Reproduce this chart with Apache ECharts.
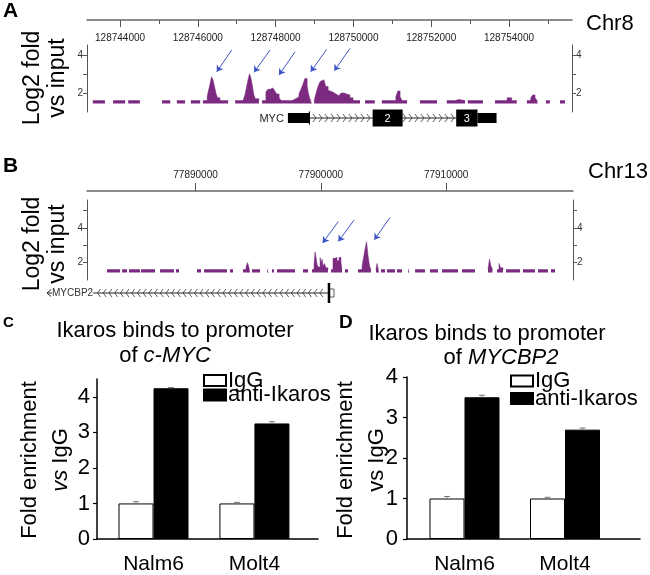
<!DOCTYPE html>
<html>
<head>
<meta charset="utf-8">
<script src="https://cdn.jsdelivr.net/npm/echarts@6/dist/echarts.min.js"></script>
<style>
  html, body { margin: 0; padding: 0; background: #fff; }
  #chart { width: 650px; height: 575px; }
</style>
</head>
<body>
<div id="chart"></div>
<script>
// ---- Panel A: Chr8 track around MYC (position in bp, log2 fold vs input) ----
const chr8Ticks = [128744000, 128746000, 128748000, 128750000, 128752000, 128754000];
const chr8MinorTicks = [128745000, 128747000, 128749000, 128751000, 128753000, 128755000];
const chr8Segments = [
  [[128743300, 1.6], [128743610, 1.6]],
  [[128743820, 1.6], [128744130, 1.6]],
  [[128744210, 1.6], [128744510, 1.6]],
  [[128745080, 1.6], [128745290, 1.6]],
  [[128745460, 1.6], [128745670, 1.6]],
  [[128745820, 1.6], [128746060, 1.6]],
  [[128746130, 1.6], [128746240, 1.8], [128746270, 2.1], [128746310, 2.45], [128746350, 2.86], [128746390, 2.7],
   [128746430, 2.35], [128746470, 1.95], [128746510, 1.75], [128746570, 1.6], [128746780, 1.6]],
  [[128746960, 1.6], [128747160, 1.7], [128747210, 1.9], [128747250, 2.3], [128747290, 2.7], [128747330, 3.02],
   [128747370, 2.75], [128747410, 2.3], [128747440, 1.9], [128747480, 1.7], [128747570, 1.6]],
  [[128747650, 1.6], [128747750, 2.05], [128747800, 2.2], [128747860, 2.27], [128747930, 2.2], [128747980, 2.1],
   [128748030, 1.95], [128748090, 1.75], [128748140, 1.6], [128748420, 1.7], [128748520, 1.8], [128748600, 1.95],
   [128748650, 2.2], [128748700, 2.45], [128748750, 2.76], [128748810, 2.4], [128748840, 2.0], [128748880, 1.7],
   [128748930, 1.6]],
  [[128748990, 1.6], [128749040, 2.0], [128749090, 2.35], [128749140, 2.6], [128749190, 2.7], [128749240, 2.6],
   [128749290, 2.35], [128749350, 2.15], [128749400, 2.05], [128749470, 1.95], [128749550, 1.85], [128749630, 1.9],
   [128749680, 2.0], [128749760, 1.95], [128749830, 1.9], [128749910, 1.75], [128749990, 1.6], [128750170, 1.6]],
  [[128750300, 1.6], [128750550, 1.6]],
  [[128750730, 1.6], [128751090, 1.8], [128751140, 2.1], [128751200, 1.8], [128751250, 1.6], [128751380, 1.6]],
  [[128751710, 1.6], [128752150, 1.6]],
  [[128752400, 1.6], [128752610, 1.66], [128752710, 1.6], [128752870, 1.6]],
  [[128752940, 1.6], [128753330, 1.6]],
  [[128753640, 1.6], [128753950, 1.75], [128754070, 1.6], [128754200, 1.6]],
  [[128754460, 1.6], [128754560, 1.75], [128754610, 1.9], [128754670, 1.75], [128754720, 1.6], [128754740, 1.6]],
  [[128754950, 1.6], [128755050, 1.6]],
  [[128755310, 1.6], [128755440, 1.6]]
];
// arrows pointing at peaks: [fromX, fromY, toX, toY]
const chr8Arrows = [
  [128746870, 4.26, 128746485, 3.12],
  [128747855, 4.26, 128747444, 3.09],
  [128748500, 4.17, 128748086, 2.95],
  [128749312, 4.30, 128748901, 3.12],
  [128749911, 4.35, 128749508, 3.17]
];
// MYC gene model: [start, end, kind, label]
const mycBlocks = [
  [128748315, 128748869, 'thin', ''],
  [128750494, 128751265, 'thick', '2'],
  [128752642, 128753190, 'thick', '3'],
  [128753190, 128753680, 'thin', '']
];
const mycIntron = [128748869, 128752642];

// ---- Panel B: Chr13 track around MYCBP2 ----
const chr13Ticks = [77890000, 77900000, 77910000];
const chr13Segments = [
  [[77882940, 1.6], [77883980, 1.6]],
  [[77884140, 1.6], [77884530, 1.6]],
  [[77884690, 1.6], [77885570, 1.6]],
  [[77885650, 1.6], [77886770, 1.6]],
  [[77887170, 1.6], [77888280, 1.6]],
  [[77888440, 1.6], [77888680, 1.6]],
  [[77890120, 1.6], [77890440, 1.6]],
  [[77890680, 1.6], [77892510, 1.6]],
  [[77892750, 1.6], [77892990, 1.6]],
  [[77893790, 1.6], [77894030, 1.75], [77894150, 2.0], [77894270, 1.7], [77894350, 1.6]],
  [[77894510, 1.6], [77895150, 1.6]],
  [[77895710, 1.6], [77895830, 1.6]],
  [[77896100, 1.6], [77896260, 1.6]],
  [[77896500, 1.6], [77897940, 1.6]],
  [[77898580, 1.6], [77898980, 1.6]],
  [[77899300, 1.6], [77899460, 1.9], [77899540, 2.62], [77899620, 2.3], [77899700, 1.9], [77899780, 1.75],
   [77899940, 2.3], [77900020, 2.0], [77900100, 2.2], [77900180, 1.8], [77900290, 1.95], [77900410, 1.7], [77900570, 1.6]],
  [[77900810, 1.6], [77900970, 2.25], [77901130, 2.3], [77901290, 2.1], [77901450, 2.3], [77901610, 2.0], [77901690, 1.6]],
  [[77901930, 1.6], [77902170, 1.6]],
  [[77902970, 1.6], [77903290, 1.8], [77903410, 2.3], [77903530, 2.8], [77903650, 3.2], [77903770, 2.4],
   [77903890, 1.8], [77904000, 1.6]],
  [[77904400, 1.6], [77904480, 1.95], [77904560, 1.7], [77904640, 1.6]],
  [[77904800, 1.6], [77905120, 1.6]],
  [[77905280, 1.6], [77905920, 1.6]],
  [[77906080, 1.6], [77906480, 1.6]],
  [[77906960, 1.6], [77907080, 1.6]],
  [[77907520, 1.6], [77908310, 1.6]],
  [[77908710, 1.6], [77909350, 1.6]],
  [[77909670, 1.6], [77910950, 1.6]],
  [[77911270, 1.6], [77912300, 1.6]],
  [[77913340, 1.6], [77913460, 2.2], [77913580, 1.8], [77913700, 1.6]],
  [[77914060, 1.6], [77914220, 1.95], [77914340, 1.7], [77914540, 1.6]],
  [[77914780, 1.6], [77915900, 1.6]],
  [[77916130, 1.6], [77917090, 1.6]],
  [[77917330, 1.6], [77918130, 1.6]],
  [[77918370, 1.6], [77918690, 1.6]]
];
const chr13Arrows = [
  [77901395, 4.36, 77900151, 3.13],
  [77902672, 4.46, 77901395, 3.22],
  [77905521, 4.59, 77904268, 3.31]
];
const mycbp2Span = [77878150, 77900650];   // minus strand, TSS on the right
const mycbp2Exon = [77900700, 77901050];

// ---- Panels C and D: ChIP-qPCR fold enrichment ----
const cellLines = ['Nalm6', 'Molt4'];
const mycIgG = [1.0, 1.0];
const mycIgGErr = [0.05, 0.03];
const mycIkaros = [4.24, 3.25];
const mycIkarosErr = [0.02, 0.05];
const cbpIgG = [1.0, 1.0];
const cbpIgGErr = [0.05, 0.03];
const cbpIkaros = [3.5, 2.7];
const cbpIkarosErr = [0.05, 0.04];

const FONT = '"Liberation Sans", Arial, sans-serif';
const PURPLE = '#7b2a80';
const ARROW = '#3f55c6';

// flatten segments into one line with breaks between them
const toTrack = segs => {
  const out = [];
  segs.forEach(s => {
    s.forEach(p => out.push(p));
    out.push([s[s.length - 1][0], '-']);
  });
  return out;
};
const toArrows = arr => arr.map(a => [{ coord: [a[0], a[1]] }, { coord: [a[2], a[3]] }]);

const trackYAxis = (grid, pos, max, ticks) => ({
  type: 'value', gridIndex: grid, position: pos, min: 1, max: max,
  axisLine: { show: true, lineStyle: { color: '#555', width: 1 } },
  axisTick: { show: true, length: 4, customValues: ticks, lineStyle: { color: '#555' } },
  axisLabel: { customValues: [2, 4], fontSize: 10, color: '#333', margin: 4, fontFamily: FONT },
  splitLine: { show: false }
});
const hiddenAxis = (grid, min, max) => ({
  type: 'value', gridIndex: grid, min: min, max: max, show: false, splitLine: { show: false }
});

// MYC gene drawing (plus strand)
const renderMyc = (params, api) => {
  const px = v => api.coord([v, 0.5])[0];
  const y = api.coord([mycIntron[0], 0.5])[1];
  const ch = [];
  const a = px(mycIntron[0]), b = px(mycIntron[1]);
  ch.push({ type: 'line', shape: { x1: a, y1: y, x2: b, y2: y }, style: { stroke: '#222', lineWidth: 1 } });
  for (let x = a + 5; x < b - 2; x += 6) {
    ch.push({ type: 'polyline', shape: { points: [[x - 1.5, y - 4], [x + 1.5, y], [x - 1.5, y + 4]] },
      style: { stroke: '#333', fill: null, lineWidth: 0.8 } });
  }
  mycBlocks.forEach(bl => {
    const h = bl[2] === 'thick' ? 17 : 10;
    const x0 = px(bl[0]), x1 = px(bl[1]);
    ch.push({ type: 'rect', shape: { x: x0, y: y - h / 2, width: x1 - x0, height: h }, style: { fill: '#000' } });
    if (bl[3]) {
      ch.push({ type: 'text', x: (x0 + x1) / 2, y: y + 0.5,
        style: { text: bl[3], fill: '#fff', fontSize: 11, fontFamily: FONT, align: 'center', verticalAlign: 'middle' } });
    }
  });
  const t = px(mycBlocks[0][1]);
  ch.push({ type: 'line', shape: { x1: t, y1: y - 6.5, x2: t, y2: y + 6.5 }, style: { stroke: '#000', lineWidth: 1.2 } });
  ch.push({ type: 'text', x: px(mycBlocks[0][0]) - 4, y: y + 0.5,
    style: { text: 'MYC', fill: '#222', fontSize: 11, fontFamily: FONT, align: 'right', verticalAlign: 'middle' } });
  return { type: 'group', children: ch };
};

// MYCBP2 gene drawing (minus strand)
const renderMycbp2 = (params, api) => {
  const px = v => api.coord([v, 0.5])[0];
  const y = api.coord([mycbp2Span[0], 0.5])[1];
  const a = px(mycbp2Span[0]), b = px(mycbp2Span[1]);
  const ch = [];
  ch.push({ type: 'line', shape: { x1: a, y1: y, x2: b, y2: y }, style: { stroke: '#222', lineWidth: 1 } });
  ch.push({ type: 'polyline', shape: { points: [[a + 4, y - 3.5], [a, y], [a + 4, y + 3.5]] },
    style: { stroke: '#222', fill: null, lineWidth: 1 } });
  for (let x = a + 52; x < b - 3; x += 5.7) {
    ch.push({ type: 'polyline', shape: { points: [[x + 1.5, y - 4], [x - 1.5, y], [x + 1.5, y + 4]] },
      style: { stroke: '#333', fill: null, lineWidth: 0.8 } });
  }
  ch.push({ type: 'text', x: a + 5, y: y + 0.5,
    style: { text: 'MYCBP2', fill: '#333', fontSize: 10, fontFamily: FONT, align: 'left', verticalAlign: 'middle',
      backgroundColor: '#fff' } });
  const e0 = px(mycbp2Exon[0]), e1 = px(mycbp2Exon[1]);
  ch.push({ type: 'rect', shape: { x: e0, y: y - 4, width: e1 - e0, height: 8 },
    style: { fill: '#fff', stroke: '#333', lineWidth: 0.8 } });
  ch.push({ type: 'line', shape: { x1: b, y1: y - 10, x2: b, y2: y + 10 }, style: { stroke: '#000', lineWidth: 2.5 } });
  return { type: 'group', children: ch };
};

const errorBars = (params, api) => {
  const x = api.value(0), v = api.value(1), e = api.value(2), side = api.value(3);
  const top = api.coord([x, v + e]);
  const base = api.coord([x, v]);
  const cx = top[0] + side * 17.5;
  return { type: 'group', children: [
    { type: 'line', shape: { x1: cx, y1: base[1], x2: cx, y2: top[1] }, style: { stroke: '#777', lineWidth: 1 } },
    { type: 'line', shape: { x1: cx - 3, y1: top[1], x2: cx + 3, y2: top[1] }, style: { stroke: '#777', lineWidth: 1 } }
  ] };
};
const errData = (vals, errs, side) => vals.map((v, i) => [i + 1, v, errs[i], side]);

const barYAxis = (grid, max, margin) => ({
  type: 'value', gridIndex: grid, min: 0, max: max,
  axisLine: { show: true, lineStyle: { color: '#000', width: 1.5 } },
  axisTick: { show: true, length: 4, customValues: [0, 1, 2, 3, 4], lineStyle: { color: '#000', width: 1.2 } },
  axisLabel: { customValues: [0, 1, 2, 3, 4], fontSize: 22, color: '#000', margin: margin, fontFamily: FONT },
  splitLine: { show: false }
});
const barXAxis = (grid, min, max) => ({
  type: 'value', gridIndex: grid, min: min, max: max,
  axisLine: { show: true, onZero: false, lineStyle: { color: '#000', width: 1.5 } },
  axisTick: { show: false },
  axisLabel: { customValues: [1, 2], formatter: v => cellLines[Math.round(v) - 1], fontSize: 21, color: '#000',
    margin: 15, fontFamily: FONT },
  splitLine: { show: false }
});
const igGStyle = { color: '#fff', borderColor: '#000', borderWidth: 1 };
const ikStyle = { color: '#000', borderColor: '#000', borderWidth: 1 };
// one legend per entry so each row sits where the picture has it
const legendItem = (name, left, top) => ({
  data: [name], left: left, top: top, padding: 0, itemWidth: 22, itemHeight: 11, icon: 'rect',
  selectedMode: false, textStyle: { fontSize: 22, color: '#000', fontFamily: FONT, padding: [0, 0, 0, -3] }
});

const chart = echarts.init(document.getElementById('chart'));
chart.setOption({
  animation: false,
  backgroundColor: '#fff',
  textStyle: { fontFamily: FONT },
  grid: [
    { left: 87, right: 78, top: 45, height: 67 },
    { left: 87, right: 78, top: 108, height: 20 },
    { left: 87, right: 77, top: 200, height: 80 },
    { left: 87, right: 77, top: 283, height: 20 },
    { left: 97, right: 332, top: 379, height: 162 },
    { left: 407, right: 10, top: 377, height: 164 }
  ],
  xAxis: [
    { type: 'value', gridIndex: 0, position: 'top', offset: 25, min: 128743150, max: 128755620,
      axisLine: { show: true, lineStyle: { color: '#666', width: 1.5 } },
      axisTick: { show: true, inside: true, length: 7, customValues: chr8Ticks, lineStyle: { color: '#555' } },
      axisLabel: { inside: true, margin: 13, customValues: chr8Ticks, formatter: v => String(v), fontSize: 10,
        color: '#222', fontFamily: FONT },
      splitLine: { show: false } },
    { type: 'value', gridIndex: 0, position: 'top', offset: 25, min: 128743150, max: 128755620,
      axisLine: { show: false },
      axisTick: { show: true, inside: true, length: 4, customValues: chr8MinorTicks, lineStyle: { color: '#555' } },
      axisLabel: { show: false }, splitLine: { show: false } },
    hiddenAxis(1, 128743150, 128755620),
    { type: 'value', gridIndex: 2, position: 'top', offset: 9, min: 77881340, max: 77920125,
      axisLine: { show: true, lineStyle: { color: '#666', width: 1.5 } },
      axisTick: { show: true, length: 8, customValues: chr13Ticks, lineStyle: { color: '#555' } },
      axisLabel: { margin: 11, customValues: chr13Ticks, formatter: v => String(v), fontSize: 10, color: '#222',
        fontFamily: FONT },
      splitLine: { show: false } },
    hiddenAxis(3, 77881340, 77920125),
    barXAxis(4, 0.44, 2.63),
    barXAxis(5, 0.428, 2.746)
  ],
  yAxis: [
    trackYAxis(0, 'left', 4.53, [2, 3, 4]),
    trackYAxis(0, 'right', 4.53, [2, 3, 4]),
    hiddenAxis(1, 0, 1),
    trackYAxis(2, 'left', 5.6, [2, 3, 4, 5]),
    trackYAxis(2, 'right', 5.6, [2, 3, 4, 5]),
    hiddenAxis(3, 0, 1),
    barYAxis(4, 4.5, 7),
    barYAxis(5, 4, 9)
  ],
  legend: [
    legendItem('IgG', 203, 369.5),
    legendItem('anti-Ikaros', 203, 384),
    legendItem('IgG', 510, 370),
    legendItem('anti-Ikaros', 510, 387.5)
  ],
  series: [
    { name: 'chr8', type: 'line', xAxisIndex: 0, yAxisIndex: 0, step: 'end', showSymbol: false, silent: true,
      connectNulls: false, data: toTrack(chr8Segments),
      lineStyle: { color: PURPLE, width: 0.5 }, areaStyle: { color: PURPLE, opacity: 1, origin: 1.45 },
      markLine: { silent: true, symbol: ['none', 'arrow'], symbolSize: 6, label: { show: false },
        lineStyle: { color: ARROW, width: 1, type: 'solid' }, data: toArrows(chr8Arrows) } },
    { type: 'custom', xAxisIndex: 2, yAxisIndex: 2, clip: false, silent: true,
      data: [[mycIntron[0], 0.5]], renderItem: renderMyc },
    { name: 'chr13', type: 'line', xAxisIndex: 3, yAxisIndex: 3, step: 'end', showSymbol: false, silent: true,
      connectNulls: false, data: toTrack(chr13Segments),
      lineStyle: { color: PURPLE, width: 0.5 }, areaStyle: { color: PURPLE, opacity: 1, origin: 1.43 },
      markLine: { silent: true, symbol: ['none', 'arrow'], symbolSize: 6, label: { show: false },
        lineStyle: { color: ARROW, width: 1, type: 'solid' }, data: toArrows(chr13Arrows) } },
    { type: 'custom', xAxisIndex: 4, yAxisIndex: 5, clip: false, silent: true,
      data: [[mycbp2Span[0], 0.5]], renderItem: renderMycbp2 },

    { name: 'IgG', type: 'bar', xAxisIndex: 5, yAxisIndex: 6, barWidth: 35, barGap: '0%',
      data: mycIgG.map((v, i) => [i + 1, v]), itemStyle: igGStyle },
    { name: 'anti-Ikaros', type: 'bar', xAxisIndex: 5, yAxisIndex: 6, barWidth: 35, barGap: '0%',
      data: mycIkaros.map((v, i) => [i + 1, v]), itemStyle: ikStyle },
    { type: 'custom', xAxisIndex: 5, yAxisIndex: 6, silent: true, z: 5,
      data: errData(mycIgG, mycIgGErr, -1).concat(errData(mycIkaros, mycIkarosErr, 1)), renderItem: errorBars },

    { name: 'IgG', type: 'bar', xAxisIndex: 6, yAxisIndex: 7, barWidth: 35, barGap: '0%',
      data: cbpIgG.map((v, i) => [i + 1, v]), itemStyle: igGStyle },
    { name: 'anti-Ikaros', type: 'bar', xAxisIndex: 6, yAxisIndex: 7, barWidth: 35, barGap: '0%',
      data: cbpIkaros.map((v, i) => [i + 1, v]), itemStyle: ikStyle },
    { type: 'custom', xAxisIndex: 6, yAxisIndex: 7, silent: true, z: 5,
      data: errData(cbpIgG, cbpIgGErr, -1).concat(errData(cbpIkaros, cbpIkarosErr, 1)), renderItem: errorBars }
  ],
  graphic: [
    { type: 'text', x: 3, y: 1, style: { text: 'A', fontSize: 21, fontWeight: 'bold', fontFamily: FONT, fill: '#000' } },
    { type: 'text', x: 3, y: 156, style: { text: 'B', fontSize: 21, fontWeight: 'bold', fontFamily: FONT, fill: '#000' } },
    { type: 'text', x: 3, y: 315, style: { text: 'C', fontSize: 15, fontWeight: 'bold', fontFamily: FONT, fill: '#000' } },
    { type: 'text', x: 339, y: 313, style: { text: 'D', fontSize: 19, fontWeight: 'bold', fontFamily: FONT, fill: '#000' } },
    { type: 'text', x: 586, y: 24, style: { text: 'Chr8', fontSize: 22, fontFamily: FONT, fill: '#000',
      align: 'left', verticalAlign: 'middle' } },
    { type: 'text', x: 588, y: 172, style: { text: 'Chr13', fontSize: 22, fontFamily: FONT, fill: '#000',
      align: 'left', verticalAlign: 'middle' } },
    { type: 'text', x: 45, y: 78, rotation: Math.PI / 2, style: { text: 'Log2 fold\nvs input', fontSize: 23,
      lineHeight: 25, fontFamily: FONT, fill: '#000', align: 'center', verticalAlign: 'middle' } },
    { type: 'text', x: 45, y: 244, rotation: Math.PI / 2, style: { text: 'Log2 fold\nvs input', fontSize: 23,
      lineHeight: 25, fontFamily: FONT, fill: '#000', align: 'center', verticalAlign: 'middle' } },
    { type: 'text', x: 45.5, y: 460, rotation: Math.PI / 2, style: { text: 'Fold enrichment\n{i|vs} IgG', fontSize: 22,
      lineHeight: 31, fontFamily: FONT, fill: '#000', align: 'center', verticalAlign: 'middle',
      rich: { i: { fontStyle: 'italic', fontSize: 22, fontFamily: FONT, fill: '#000' } } } },
    { type: 'text', x: 361.5, y: 460, rotation: Math.PI / 2, style: { text: 'Fold enrichment\nvs IgG', fontSize: 22,
      lineHeight: 31, fontFamily: FONT, fill: '#000', align: 'center', verticalAlign: 'middle' } },
    { type: 'text', x: 175, y: 331, style: { text: 'Ikaros binds to promoter', fontSize: 22, fontFamily: FONT,
      fill: '#000', align: 'center', verticalAlign: 'middle' } },
    { type: 'text', x: 165, y: 356, style: { text: 'of {i|c-MYC}', fontSize: 22, fontFamily: FONT, fill: '#000',
      align: 'center', verticalAlign: 'middle',
      rich: { i: { fontStyle: 'italic', fontSize: 22, fontFamily: FONT, fill: '#000' } } } },
    { type: 'text', x: 487, y: 334, style: { text: 'Ikaros binds to promoter', fontSize: 22, fontFamily: FONT,
      fill: '#000', align: 'center', verticalAlign: 'middle' } },
    { type: 'text', x: 501, y: 358, style: { text: 'of {i|MYCBP2}', fontSize: 22, fontFamily: FONT, fill: '#000',
      align: 'center', verticalAlign: 'middle',
      rich: { i: { fontStyle: 'italic', fontSize: 22, fontFamily: FONT, fill: '#000' } } } }
  ]
});
</script>
</body>
</html>
